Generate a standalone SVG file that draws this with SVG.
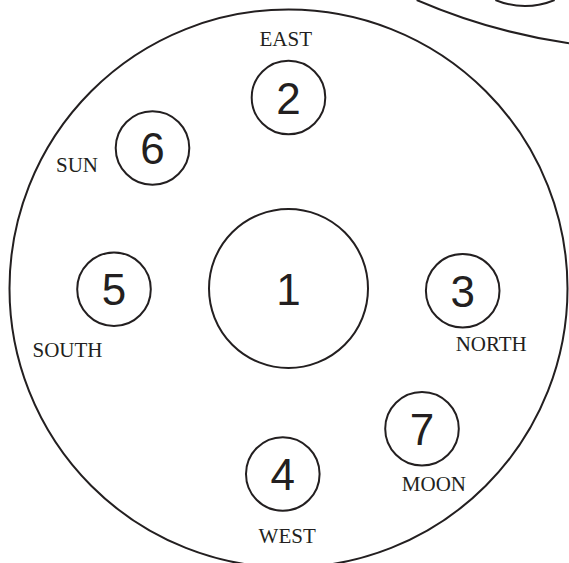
<svg xmlns="http://www.w3.org/2000/svg" width="569" height="563" viewBox="0 0 569 563">
  <style>
    .ring { fill: none; stroke: #231f20; stroke-width: 2; }
    .node { fill: #ffffff; stroke: #231f20; stroke-width: 2; }
    .num { font-family: "Liberation Sans", Arial, sans-serif; font-size: 44px; fill: #231f20; text-anchor: middle; }
    .lbl { font-family: "Liberation Serif", "Times New Roman", serif; font-size: 21px; fill: #231f20; text-anchor: middle; }
  </style>
  <rect width="569" height="563" fill="#ffffff"/>
  <g id="background">
    <path class="ring" d="M 416.7 0 A 603 603 0 0 0 569 43.3"/>
    <path class="ring" d="M 495.4 0 A 76 76 0 0 0 554.6 0"/>
    <circle class="ring" cx="288.5" cy="288.5" r="279"/>
  </g>
  <g id="connectors"/>
  <g id="node1">
    <circle class="node" cx="288.5" cy="288.5" r="79.5"/>
    <text class="num" x="288.5" y="304.5">1</text>
  </g>
  <g id="node2">
    <circle class="node" cx="288.5" cy="97.5" r="36.8"/>
    <text class="num" x="288.5" y="113.5">2</text>
    <text class="lbl" x="285.8" y="46">EAST</text>
  </g>
  <g id="node3">
    <circle class="node" cx="462.7" cy="290.7" r="36.8"/>
    <text class="num" x="462.7" y="306.7">3</text>
    <text class="lbl" x="491.2" y="350.7">NORTH</text>
  </g>
  <g id="node4">
    <circle class="node" cx="282.8" cy="474" r="36.8"/>
    <text class="num" x="282.8" y="490">4</text>
    <text class="lbl" x="287.2" y="543">WEST</text>
  </g>
  <g id="node5">
    <circle class="node" cx="114" cy="289.3" r="36.8"/>
    <text class="num" x="114" y="305.3">5</text>
    <text class="lbl" x="67.5" y="357.2">SOUTH</text>
  </g>
  <g id="node6">
    <circle class="node" cx="152.5" cy="148" r="36.8"/>
    <text class="num" x="152.5" y="164">6</text>
    <text class="lbl" x="77" y="172.2">SUN</text>
  </g>
  <g id="node7">
    <circle class="node" cx="422" cy="428.8" r="36.8"/>
    <text class="num" x="422" y="444.8">7</text>
    <text class="lbl" x="433.9" y="490.5">MOON</text>
  </g>
</svg>
